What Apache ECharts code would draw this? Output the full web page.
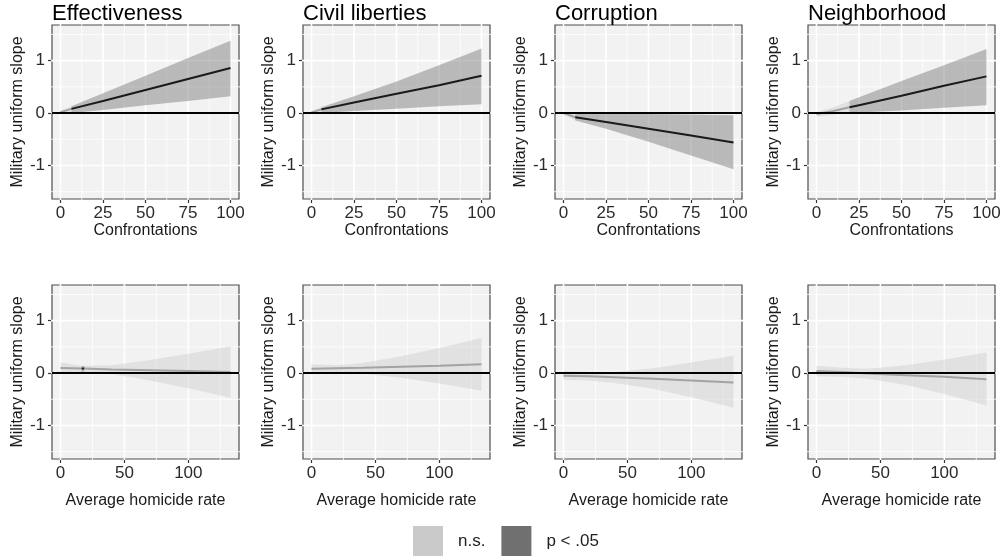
<!DOCTYPE html>
<html>
<head>
<meta charset="utf-8">
<script src="https://cdn.jsdelivr.net/npm/echarts@6/dist/echarts.min.js"></script>
<style>
  html, body { margin: 0; background: #fff; }
  #chart { width: 1006px; height: 558px; }
</style>
</head>
<body>
<div id="chart"></div>
<script>
// panel titles and axis names
const panelTitles = ["Effectiveness", "Civil liberties", "Corruption", "Neighborhood"];
const topXName = "Confrontations";
const botXName = "Average homicide rate";
const yName = "Military uniform slope";

// tick values
const topXTicks = [0, 25, 50, 75, 100];
const topXMinor = [12.5, 37.5, 62.5, 87.5];
const botXTicks = [0, 50, 100];
const botXMinor = [25, 75, 125];
const yTicks = [-1, 0, 1];
const yMinor = [-1.5, -0.5, 0.5, 1.5];

// top row: moderator = confrontations  (sig: 1 = p < .05 for segment i..i+1)
const effTopX = [0, 6.4, 25, 50, 75, 100];
const effTopHi = [0.05, 0.13, 0.38, 0.71, 1.05, 1.38];
const effTopLo = [-0.02, 0.0, 0.06, 0.15, 0.23, 0.32];
const effTopEst = [0.015, 0.08, 0.23, 0.44, 0.65, 0.86];
const effTopSig = [0, 1, 1, 1, 1];

const civTopX = [0, 5.8, 25, 50, 75, 100];
const civTopHi = [0.04, 0.11, 0.32, 0.6, 0.91, 1.23];
const civTopLo = [-0.02, 0.0, 0.04, 0.08, 0.13, 0.17];
const civTopEst = [0.01, 0.07, 0.2, 0.37, 0.53, 0.71];
const civTopSig = [0, 1, 1, 1, 1];

const corTopX = [0, 6.9, 25, 50, 75, 100];
const corTopHi = [0.02, 0.0, -0.01, -0.02, -0.03, -0.04];
const corTopLo = [-0.02, -0.14, -0.3, -0.55, -0.81, -1.07];
const corTopEst = [0.0, -0.08, -0.17, -0.3, -0.43, -0.56];
const corTopSig = [0, 1, 1, 1, 1];

const neiTopX = [0, 10, 19.4, 25, 50, 75, 100];
const neiTopHi = [0.02, 0.11, 0.23, 0.3, 0.61, 0.91, 1.22];
const neiTopLo = [-0.07, -0.03, 0.0, 0.01, 0.05, 0.1, 0.15];
const neiTopEst = [-0.02, 0.04, 0.11, 0.15, 0.33, 0.52, 0.7];
const neiTopSig = [0, 0, 1, 1, 1, 1];

// bottom row: moderator = average homicide rate
const effBotX = [0, 16.5, 17.6, 18.7, 40, 70, 100, 133];
const effBotHi = [0.2, 0.14, 0.135, 0.14, 0.15, 0.25, 0.37, 0.51];
const effBotLo = [-0.01, -0.002, 0.004, -0.002, -0.02, -0.14, -0.29, -0.47];
const effBotEst = [0.095, 0.087, 0.086, 0.085, 0.07, 0.055, 0.04, 0.02];
const effBotSig = [0, 1, 1, 0, 0, 0, 0];

const civBotX = [0, 20, 40, 70, 100, 133];
const civBotHi = [0.17, 0.15, 0.19, 0.32, 0.48, 0.67];
const civBotLo = [-0.01, -0.01, -0.01, -0.09, -0.2, -0.34];
const civBotEst = [0.08, 0.09, 0.1, 0.12, 0.14, 0.17];
const civBotSig = [0, 0, 0, 0, 0];

const corBotX = [0, 20, 40, 70, 100, 133];
const corBotHi = [0.04, 0.02, 0.02, 0.09, 0.2, 0.33];
const corBotLo = [-0.13, -0.14, -0.19, -0.3, -0.46, -0.66];
const corBotEst = [-0.05, -0.06, -0.08, -0.11, -0.14, -0.18];
const corBotSig = [0, 0, 0, 0, 0];

const neiBotX = [0, 20, 40, 70, 100, 133];
const neiBotHi = [0.14, 0.1, 0.08, 0.15, 0.26, 0.39];
const neiBotLo = [-0.06, -0.07, -0.11, -0.23, -0.4, -0.62];
const neiBotEst = [0.04, 0.02, -0.01, -0.04, -0.07, -0.12];
const neiBotSig = [0, 0, 0, 0, 0];

const legendNames = ["n.s.", "p < .05"];

const rows = [
  {
    xName: topXName, xMin: -5, xMax: 105, ticks: topXTicks, minor: topXMinor, nameGap: 19,
    panels: [
      [effTopX, effTopLo, effTopHi, effTopEst, effTopSig],
      [civTopX, civTopLo, civTopHi, civTopEst, civTopSig],
      [corTopX, corTopLo, corTopHi, corTopEst, corTopSig],
      [neiTopX, neiTopLo, neiTopHi, neiTopEst, neiTopSig],
    ],
  },
  {
    xName: botXName, xMin: -6.65, xMax: 139.65, ticks: botXTicks, minor: botXMinor, nameGap: 34,
    panels: [
      [effBotX, effBotLo, effBotHi, effBotEst, effBotSig],
      [civBotX, civBotLo, civBotHi, civBotEst, civBotSig],
      [corBotX, corBotLo, corBotHi, corBotEst, corBotSig],
      [neiBotX, neiBotLo, neiBotHi, neiBotEst, neiBotSig],
    ],
  },
];

const colLeft = [52, 303, 555, 808];
const rowTop = [25, 285];
const panelW = 187;
const panelH = 174;
const bandNs = "rgba(200,200,200,0.4)";
const bandSig = "rgba(100,100,100,0.4)";
const font = "'Liberation Sans', Arial, sans-serif";

const grids = [], xAxes = [], yAxes = [], series = [], titles = [];

function gridLines(params, api) {
  const cs = params.coordSys;
  const major = api.value(3) === 1;
  let shape;
  if (api.value(2) === 0) {
    const p = api.coord([api.value(0), 0]);
    shape = { x1: p[0], y1: cs.y - 1, x2: p[0], y2: cs.y + cs.height + 1 };
  } else {
    const p = api.coord([0, api.value(1)]);
    shape = { x1: cs.x - 1, y1: p[1], x2: cs.x + cs.width + 1, y2: p[1] };
  }
  return { type: "line", shape, style: { stroke: "#fff", lineWidth: major ? 1.6 : 0.8 } };
}

// one polygon per run: upper edge left to right, lower edge right to left
function bandRenderer(bandRows, fill) {
  return function (params, api) {
    if (params.dataIndex !== 0) return null;
    const pts = [];
    bandRows.forEach((d) => pts.push(api.coord([d[0], d[2]])));
    for (let i = bandRows.length - 1; i >= 0; i--) pts.push(api.coord([bandRows[i][0], bandRows[i][1]]));
    return { type: "polygon", shape: { points: pts }, style: { fill: fill } };
  };
}

rows.forEach((row, r) => {
  row.panels.forEach((pan, c) => {
    const k = r * 4 + c;
    const [xs, lo, hi, est, sig] = pan;

    grids.push({
      left: colLeft[c], top: rowTop[r], width: panelW, height: panelH,
      show: true, backgroundColor: "#f2f2f2", borderColor: "#4d4d4d", borderWidth: 1.2,
    });
    xAxes.push({
      type: "value", gridIndex: k, min: row.xMin, max: row.xMax,
      name: row.xName, nameLocation: "middle", nameGap: row.nameGap,
      nameTextStyle: { fontSize: 16, color: "#1a1a1a", fontFamily: font },
      axisLine: { show: false, onZero: false },
      axisTick: { show: true, length: 4, customValues: row.ticks, lineStyle: { color: "#333", width: 1.2 } },
      axisLabel: { customValues: row.ticks, fontSize: 17, color: "#2b2b2b", margin: 6, fontFamily: font },
      splitLine: { show: false },
    });
    yAxes.push({
      type: "value", gridIndex: k, min: -1.64, max: 1.68,
      name: yName, nameLocation: "middle", nameGap: 25,
      nameTextStyle: { fontSize: 16, color: "#1a1a1a", fontFamily: font },
      axisLine: { show: false, onZero: false },
      axisTick: { show: true, length: 4, customValues: yTicks, lineStyle: { color: "#333", width: 1.2 } },
      axisLabel: { customValues: yTicks, fontSize: 17, color: "#2b2b2b", margin: 7, fontFamily: font },
      splitLine: { show: false },
    });
    if (r === 0) {
      titles.push({
        text: panelTitles[c], left: colLeft[c], top: 3, padding: 0,
        textStyle: { fontSize: 22, fontWeight: "normal", color: "#000", fontFamily: font },
      });
    }

    // background grid lines
    const gl = []
      .concat(row.ticks.map((v) => [v, 0, 0, 1]))
      .concat(row.minor.map((v) => [v, 0, 0, 0]))
      .concat(yTicks.map((v) => [0, v, 1, 1]))
      .concat(yMinor.map((v) => [0, v, 1, 0]));
    series.push({
      type: "custom", xAxisIndex: k, yAxisIndex: k, renderItem: gridLines,
      data: gl, z: 1, silent: true, clip: false,
      markLine: {
        silent: true, symbol: ["none", "none"], label: { show: false },
        lineStyle: { color: "#000", width: 2, type: "solid" }, z: 10,
        emphasis: { disabled: true },
        data: [{ yAxis: 0 }],
      },
    });

    // split into runs of same significance
    let start = 0;
    for (let i = 1; i <= sig.length; i++) {
      if (i === sig.length || sig[i] !== sig[start]) {
        const s = sig[start];
        const idx = [];
        for (let j = start; j <= i; j++) idx.push(j);
        const bandRows = idx.map((j) => [xs[j], lo[j], hi[j]]);
        series.push({
          name: legendNames[s], type: "custom", xAxisIndex: k, yAxisIndex: k,
          data: bandRows, z: 2, silent: true, clip: true,
          color: s ? "#707070" : "#cacaca",
          encode: { x: 0, y: [1, 2] },
          renderItem: bandRenderer(bandRows, s ? bandSig : bandNs),
        });
        series.push({
          type: "line", xAxisIndex: k, yAxisIndex: k,
          data: idx.map((j) => [xs[j], est[j]]),
          symbol: "none", silent: true, z: 3,
          lineStyle: { color: s ? "#1a1a1a" : "#a3a3a3", width: 2 },
        });
        start = i;
      }
    }
  });
});

const chart = echarts.init(document.getElementById("chart"));
chart.setOption({
  animation: false,
  textStyle: { fontFamily: font },
  title: titles,
  grid: grids,
  xAxis: xAxes,
  yAxis: yAxes,
  legend: {
    left: 413, top: 526, padding: 0, itemWidth: 30, itemHeight: 30, itemGap: 16,
    selectedMode: false,
    textStyle: { fontSize: 17, color: "#222", padding: [0, 0, 0, 10], fontFamily: font },
    data: [
      { name: "n.s.", icon: "rect", itemStyle: { color: "#cacaca", borderWidth: 0 } },
      { name: "p < .05", icon: "rect", itemStyle: { color: "#707070", borderWidth: 0 } },
    ],
  },
  series: series,
});
</script>
</body>
</html>
